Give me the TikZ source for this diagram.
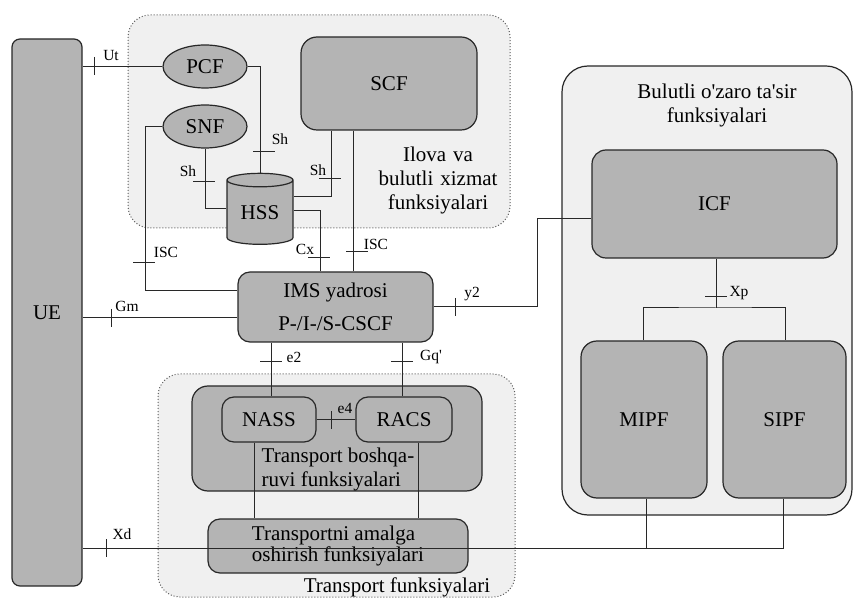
\documentclass[tikz,border=0pt]{standalone}
\usepackage{fontspec}
\setmainfont{Liberation Serif}[Ligatures=TeXOff]
\usetikzlibrary{shapes.geometric, calc}
\definecolor{regiongray}{RGB}{240,240,240}
\definecolor{boxgray}{RGB}{180,180,180}
\definecolor{linegray}{RGB}{40,40,40}
\definecolor{dotgray}{RGB}{90,90,90}
\newcommand{\mainsize}{\fontsize{21}{24}\selectfont}
\newcommand{\lblsize}{\fontsize{15.5}{17}\selectfont}
\newcommand{\vtick}[2]{\draw[conn] (#1,#2) ++(0,-9) -- ++(0,18);}
\newcommand{\htick}[2]{\draw[conn] (#1,#2) ++(-11,0) -- ++(22,0);}

\begin{document}
\begin{tikzpicture}[
      x=1pt, y=-1pt,
      region/.style={draw=dotgray, dotted, line width=1pt, fill=regiongray, rounded corners=22pt},
      fbox/.style={rectangle, draw=linegray, line width=1.2pt, fill=boxgray, rounded corners=12pt, font=\mainsize, align=center, inner sep=0pt},
      fell/.style={ellipse, draw=linegray, line width=1.2pt, fill=boxgray, minimum width=84, minimum height=43, inner sep=0pt, font=\mainsize},
      conn/.style={draw=linegray, line width=1pt},
      lbl/.style={font=\lblsize, inner sep=0pt},
      txt/.style={font=\mainsize, align=center, inner sep=0pt}
    ]
      \useasboundingbox (0,0) rectangle (854,601);

      % regions
      \draw[region] (128,15) rectangle (510,228);
      \draw[region] (158,374) rectangle (515,597);
      \draw[draw=linegray, line width=1.2pt, fill=regiongray, rounded corners=26pt] (562,66) rectangle (852,515);

      \node[txt, text width=130] (appText) at (438,180) {Ilova va\\bulutli xizmat\\funksiyalari};
      \node[txt] (cloudText) at (717,105) {Bulutli o'zaro ta'sir\\funksiyalari};
      \node[txt] (trText) at (397,587) {Transport funksiyalari};

      \node[fbox, minimum width=70, minimum height=547, rounded corners=8pt] (UE) at (47,312.5) {UE};
      \node[fell] (PCF) at (205,66.5) {PCF};
      \node[fell] (SNF) at (205,126.5) {SNF};
      \node[fbox, minimum width=176, minimum height=93, rounded corners=16pt] (SCF) at (389,83.5) {SCF};
      \node[cylinder, shape border rotate=90, aspect=0.35, draw=linegray, line width=1.2pt, fill=boxgray, minimum width=66, minimum height=71, inner sep=0pt, font=\mainsize] (HSS) at (260,212.5) {HSS};
      \node[fbox, minimum width=195, minimum height=70] (IMS) at (335.5,307) {IMS yadrosi\\[9pt]P-/I-/S-CSCF};

      \node[fbox, minimum width=290, minimum height=105, rounded corners=16pt] (TC) at (337,438.5) {};
      \node[fbox, minimum width=94, minimum height=45] (NASS) at (269,419.5) {NASS};
      \node[fbox, minimum width=96, minimum height=45] (RACS) at (404,419.5) {RACS};
      \node[txt, align=left] (tcText) at (338,469) {Transport boshqa-\\ruvi funksiyalari};
      \node[fbox, minimum width=260, minimum height=54, align=left, font=\fontsize{21}{21}\selectfont] (TR) at (338,546) {Transportni amalga\\oshirish funksiyalari};

      \node[fbox, minimum width=245, minimum height=108, rounded corners=14pt] (ICF) at (714.5,204) {ICF};
      \node[fbox, minimum width=126, minimum height=157, rounded corners=16pt] (MIPF) at (644,419.5) {MIPF};
      \node[fbox, minimum width=123, minimum height=157, rounded corners=16pt] (SIPF) at (784.5,419.5) {SIPF};

      \coordinate (y2bend) at (537,307);
      \coordinate (xp) at (716,308);

      % connectors
      \draw[conn] (PCF.west -| UE.east) -- (PCF.west);
      \draw[conn] (PCF.east) -| (HSS.north);
      \draw[conn] (SNF.south) |- (HSS.west |- 0,209);
      \draw[conn] (SNF.west) -- ++(-17,0) |- (IMS.west |- 0,291);
      \draw[conn] (SCF.south -| 331,0) |- (HSS.east |- 0,197);
      \draw[conn] (HSS.east |- 0,211) -| (IMS.north -| 320,0);
      \draw[conn] (SCF.south -| 353,0) -- (IMS.north -| 353,0);
      \draw[conn] (UE.east |- 0,318) -- (IMS.west |- 0,318);
      \draw[conn] (IMS.east) -- (y2bend) |- (ICF.west |- 0,219);
      \draw[conn] (IMS.south -| 271,0) -- (NASS.north -| 271,0);
      \draw[conn] (IMS.south -| 402,0) -- (RACS.north -| 402,0);
      \draw[conn] (NASS.east) -- (RACS.west);
      \draw[conn] (NASS.south -| 254,0) -- (TR.north -| 254,0);
      \draw[conn] (RACS.south -| 418,0) -- (TR.north -| 418,0);
      \draw[conn] (SIPF.south -| 783,0) |- (UE.east |- 0,548);
      \draw[conn] (MIPF.south -| 646,0) -- (646,548);
      \draw[conn] (ICF.south -| xp) -- (xp);
      \draw[conn] (MIPF.north -| 643,0) |- (xp) -| (SIPF.north -| 785,0);

      % ticks
      \vtick{94}{66} \htick{264}{152} \htick{204}{182} \htick{144}{263}
      \htick{330}{179} \htick{357}{252} \htick{319}{258} \vtick{111}{318}
      \vtick{455}{307} \htick{271}{362} \htick{402}{362} \vtick{331}{420}
      \vtick{106}{548} \htick{716}{297}

      % labels
      \node[lbl] (lUt) at (111,56) {Ut};
      \node[lbl] (lSh1) at (280,139) {Sh};
      \node[lbl] (lSh2) at (188,171) {Sh};
      \node[lbl] (lIsc1) at (166,252) {ISC};
      \node[lbl] (lSh3) at (318,170) {Sh};
      \node[lbl] (lIsc2) at (376,244) {ISC};
      \node[lbl] (lCx) at (305,249) {Cx};
      \node[lbl] (lGm) at (127,306) {Gm};
      \node[lbl] (lY2) at (472,294) {y2};
      \node[lbl] (lE2) at (294,357) {e2};
      \node[lbl] (lGq) at (431,357) {Gq'};
      \node[lbl] (lE4) at (345,408) {e4};
      \node[lbl] (lXd) at (122,534) {Xd};
      \node[lbl] (lXp) at (739,293) {Xp};
    \end{tikzpicture}
\end{document}
